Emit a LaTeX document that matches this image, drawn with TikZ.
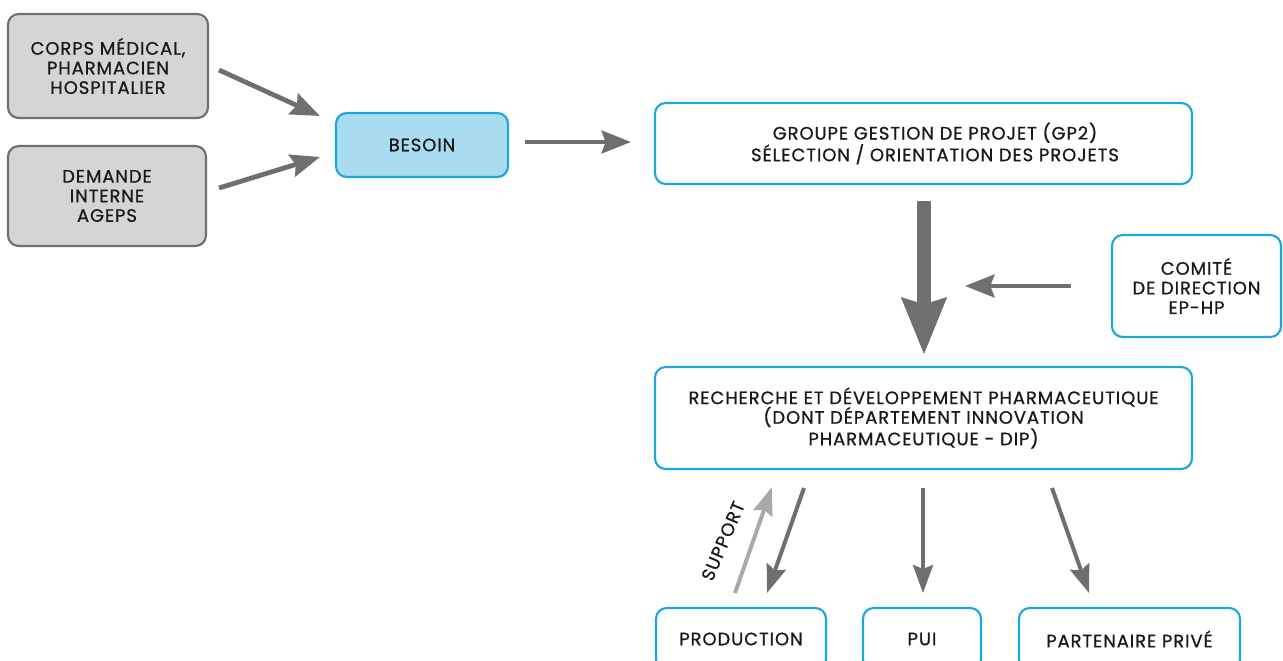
\documentclass[tikz,border=0pt]{standalone}
\usepackage{fontspec}
\setmainfont{Poppins}[FakeBold=0.8, LetterSpace=5]
\usetikzlibrary{arrows.meta}
\definecolor{arrdark}{RGB}{110,112,112}
\definecolor{arrlight}{RGB}{168,170,170}
\definecolor{boxblue}{RGB}{27,166,222}
\definecolor{fillblue}{RGB}{168,220,238}
\definecolor{fillgray}{RGB}{212,213,213}
\definecolor{linegray}{RGB}{110,112,112}
\begin{document}
\begin{tikzpicture}[x=0.75pt,y=-0.75pt,
  txt/.style={font=\fontsize{13.5}{14.7}\selectfont, align=center, text=black!90},
  graybox/.style={txt, draw=linegray, fill=fillgray, line width=1.6pt, rounded corners=8pt, inner sep=0pt},
  bluebox/.style={txt, draw=boxblue, fill=white, line width=1.6pt, rounded corners=8pt, inner sep=0pt},
  besoinbox/.style={txt, draw=boxblue, fill=fillblue, line width=1.6pt, rounded corners=8pt, inner sep=0pt},
  arr/.style={draw=arrdark, line width=3.6pt, -{Stealth[length=22pt, width=17pt, inset=3pt]}},
  arrsmall/.style={draw=arrdark, line width=3pt, -{Stealth[length=21pt, width=15pt, inset=3pt]}},
  arrlt/.style={draw=arrlight, line width=3pt, -{Stealth[length=21pt, width=15pt, inset=3pt]}},
  bigarr/.style={draw=arrdark, line width=11pt, -{Stealth[length=42pt, width=32pt, inset=4pt]}}
]
\useasboundingbox (0,0) rectangle (1283,661);
\clip (0,0) rectangle (1283,661);

% nodes
\node[graybox, minimum width=200*0.75pt, minimum height=104*0.75pt] (corps) at (108,66) {CORPS MÉDICAL,\\PHARMACIEN\\HOSPITALIER};
\node[graybox, minimum width=198*0.75pt, minimum height=100*0.75pt] (demande) at (107,196) {DEMANDE\\INTERNE\\AGEPS};
\node[besoinbox, minimum width=172*0.75pt, minimum height=64*0.75pt] (besoin) at (422,145) {BESOIN};
\node[bluebox, minimum width=537*0.75pt, minimum height=81*0.75pt] (gp2) at (923.5,143.5) {};
\node[txt] (gp2t) at (935,143.5) {GROUPE GESTION DE PROJET (GP2)\\SÉLECTION / ORIENTATION DES PROJETS};
\node[bluebox, minimum width=169*0.75pt, minimum height=102*0.75pt] (comite) at (1196.5,286) {COMITÉ\\DE DIRECTION\\EP-HP};
\node[bluebox, minimum width=537*0.75pt, minimum height=102*0.75pt] (rd) at (923.5,418) {RECHERCHE ET DÉVELOPPEMENT PHARMACEUTIQUE\\(DONT DÉPARTEMENT INNOVATION\\PHARMACEUTIQUE - DIP)};
\node[bluebox, minimum width=170*0.75pt, minimum height=62*0.75pt] (prod) at (741,639) {PRODUCTION};
\node[bluebox, minimum width=118*0.75pt, minimum height=62*0.75pt] (pui) at (922,639) {PUI};
\node[bluebox, minimum width=221*0.75pt, minimum height=62*0.75pt] (part) at (1129.5,639) {PARTENAIRE PRIVÉ};

% connector end points
\coordinate (c1s) at (219,70);   \coordinate (c1e) at (320,116);
\coordinate (c2s) at (219,188);  \coordinate (c2e) at (320,157);
\coordinate (c3s) at (525,142);  \coordinate (c3e) at (631,142);
\coordinate (c4s) at (924,201);  \coordinate (c4e) at (924,355);
\coordinate (c5s) at (1071,286); \coordinate (c5e) at (965,286);
\coordinate (c6s) at (735,593);  \coordinate (c6e) at (772,487);
\coordinate (c7s) at (804,488);  \coordinate (c7e) at (767,593);
\coordinate (c8s) at (923,488);  \coordinate (c8e) at (923,593);
\coordinate (c9s) at (1052,488); \coordinate (c9e) at (1089,593);

\draw[arr] (c1s) -- (c1e);
\draw[arr] (c2s) -- (c2e);
\draw[arr] (c3s) -- (c3e);
\draw[bigarr] (c4s) -- (c4e);
\draw[arr] (c5s) -- (c5e);
\draw[arrlt] (c6s) -- (c6e);
\draw[arrsmall] (c7s) -- (c7e);
\draw[arrsmall] (c8s) -- (c8e);
\draw[arrsmall] (c9s) -- (c9e);

\node[txt, rotate=67] (support) at (723,541) {SUPPORT};
\end{tikzpicture}
\end{document}
